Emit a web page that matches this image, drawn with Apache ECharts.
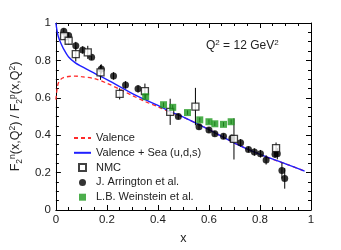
<!DOCTYPE html>
<html><head><meta charset="utf-8">
<script src="https://cdn.jsdelivr.net/npm/echarts@6/dist/echarts.min.js"></script>
<style>html,body{margin:0;padding:0;background:#fff}#c{width:341px;height:250px}</style>
</head><body><div id="c"></div>
<script>
const curveX = [0,0.005,0.01,0.02,0.03,0.05,0.075,0.1,0.15,0.2,0.25,0.3,0.35,0.4,0.45,0.5,0.6,0.7,0.8,0.9,0.975];
const seaY = [1.0,0.955,0.925,0.89,0.862,0.818,0.788,0.768,0.732,0.697,0.66,0.622,0.59,0.56,0.525,0.497,0.43,0.358,0.297,0.247,0.208];
const valY = [0.59,0.65,0.68,0.7,0.708,0.714,0.716,0.713,0.703,0.678,0.646,0.612,0.58,0.552,0.522,0.496,0.43,0.358,0.297,0.247,0.208];

const nmcX = [0.032,0.05,0.078,0.125,0.175,0.25,0.349,0.448,0.547,0.698,0.863];
const nmcY = [0.93,0.905,0.834,0.843,0.736,0.621,0.636,0.525,0.553,0.38,0.331];
const nmcE = [0.02,0.02,0.04,0.035,0.04,0.03,0.04,0.07,0.1,0.11,0.03];

const arrX = [0.031,0.05,0.078,0.105,0.14,0.178,0.226,0.273,0.322,0.48,0.561,0.6,0.623,0.657,0.69,0.724,0.755,0.778,0.802,0.824,0.859,0.868,0.886,0.897];
const arrY = [0.956,0.933,0.879,0.856,0.817,0.754,0.717,0.669,0.648,0.5,0.445,0.428,0.408,0.394,0.384,0.359,0.324,0.31,0.301,0.268,0.298,0.301,0.211,0.169];
const arrE = [0.015,0.015,0.02,0.02,0.015,0.025,0.02,0.02,0.02,0.015,0.015,0.015,0.015,0.015,0.02,0.02,0.015,0.02,0.02,0.025,0.02,0.03,0.042,0.055];

const weiX = [0.352,0.422,0.458,0.516,0.564,0.6,0.623,0.657,0.687];
const weiY = [0.606,0.563,0.549,0.521,0.482,0.472,0.461,0.458,0.472];
const weiE = [0.012,0.012,0.012,0.012,0.012,0.012,0.012,0.012,0.012];

const xTicks = ['0','0.2','0.4','0.6','0.8','1'];

const zip2 = (a,b)=>a.map((v,i)=>[v,b[i]]);
const zip3 = (a,b,c)=>a.map((v,i)=>[v,b[i],c[i]]);

function errSeries(xs, ys, es, z){
  return {
    type:'custom', silent:true, z:z,
    data: zip3(xs, ys, es),
    renderItem: function(params, api){
      const x = api.value(0), y = api.value(1), e = api.value(2);
      const p1 = api.coord([x, y - e]);
      const p2 = api.coord([x, y + e]);
      return {type:'line', shape:{x1:p1[0],y1:p1[1],x2:p2[0],y2:p2[1]}, style:{stroke:'#000', lineWidth:1}};
    }
  };
}

const FONT = 'Liberation Sans, Arial, sans-serif';
const SQ = 'path://M0,0L10,0L10,10L0,10Z';
const chart = echarts.init(document.getElementById('c'), null, {renderer:'canvas'});
const axisCommon = {
  min:0, max:1, interval:0.2,
  axisLine:{show:true, onZero:false, lineStyle:{color:'#000', width:1}},
  axisTick:{show:true, inside:true, length:5, lineStyle:{color:'#000'}},
  minorTick:{show:true, splitNumber:4, length:3, lineStyle:{color:'#000'}},
  splitLine:{show:false},
};
const fmt = v => xTicks[Math.round(v/0.2)];
chart.setOption({
  animation:false,
  backgroundColor:'#fff',
  grid:{left:51, right:30, top:23, bottom:38},
  xAxis:[
    Object.assign({}, axisCommon, {type:'value', position:'bottom',
      axisLabel:{show:true, margin:4, fontSize:11.5, color:'#222', fontFamily:FONT, formatter:fmt},
      name:'x', nameLocation:'middle', nameGap:22, nameTextStyle:{fontSize:12.5, color:'#222', fontFamily:FONT}}),
    Object.assign({}, axisCommon, {type:'value', position:'top', axisLabel:{show:false}})
  ],
  yAxis:[
    Object.assign({}, axisCommon, {type:'value', position:'left',
      axisLabel:{show:true, margin:5, fontSize:11.5, color:'#222', fontFamily:FONT, formatter:fmt},
      name:'F{sub|2}{sup|n}(x,Q{sup|2}) / F{sub|2}{sup|p}(x,Q{sup|2})', nameLocation:'middle', nameGap:30,
      nameTextStyle:{fontSize:12.5, color:'#222', fontFamily:FONT,
        rich:{
          sub:{fontSize:8.5, color:'#222', fontFamily:FONT, verticalAlign:'bottom', lineHeight:16},
          sup:{fontSize:8.5, color:'#222', fontFamily:FONT, verticalAlign:'top', lineHeight:16}
        }}}),
    Object.assign({}, axisCommon, {type:'value', position:'right', axisLabel:{show:false}})
  ],
  legend:{
    orient:'vertical', left:68, top:127, itemWidth:17, itemHeight:7, itemGap:2.8,
    textStyle:{fontSize:11, color:'#222', fontFamily:FONT, lineHeight:12},
    symbolKeepAspect:true,
    data:[
      {name:'Valence', itemStyle:{opacity:0}},
      {name:'Valence + Sea (u,d,s)', itemStyle:{opacity:0}},
      {name:'NMC', icon:SQ},
      {name:'J. Arrington et al.', icon:'circle'},
      {name:'L.B. Weinstein et al.', icon:SQ}
    ]
  },
  graphic:[{
    type:'text', left:206, top:39,
    style:{text:'Q{sup|2} = 12 GeV{sup|2}', font:'12px '+FONT, fill:'#222',
      rich:{sup:{fontSize:8, fontFamily:FONT, fill:'#222', verticalAlign:'top', lineHeight:14}}}
  }],
  series:[
    {name:'Valence', type:'line', data:zip2(curveX, valY), smooth:0.3, showSymbol:false, z:3,
      lineStyle:{color:'#ff2a2a', width:1.3, type:[4,3]}, itemStyle:{color:'#ff2a2a'}},
    {name:'Valence + Sea (u,d,s)', type:'line', data:zip2(curveX, seaY), smooth:0.3, showSymbol:false, z:4,
      lineStyle:{color:'#2020ff', width:1.4}, itemStyle:{color:'#2020ff'}},
    errSeries(arrX, arrY, arrE, 5),
    {name:'J. Arrington et al.', type:'scatter', data:zip2(arrX, arrY), symbol:'circle', symbolSize:7, z:6,
      itemStyle:{color:'#000'}},
    errSeries(nmcX, nmcY, nmcE, 7),
    {name:'NMC', type:'scatter', data:zip2(nmcX, nmcY), symbol:'rect', symbolSize:7, z:8,
      itemStyle:{color:'#fff', borderColor:'#111', borderWidth:1.3}},
    errSeries(weiX, weiY, weiE, 9),
    {name:'L.B. Weinstein et al.', type:'scatter', data:zip2(weiX, weiY), symbol:'rect', symbolSize:7, z:10,
      itemStyle:{color:'#1f9a1f'}}
  ]
});
</script></body></html>
